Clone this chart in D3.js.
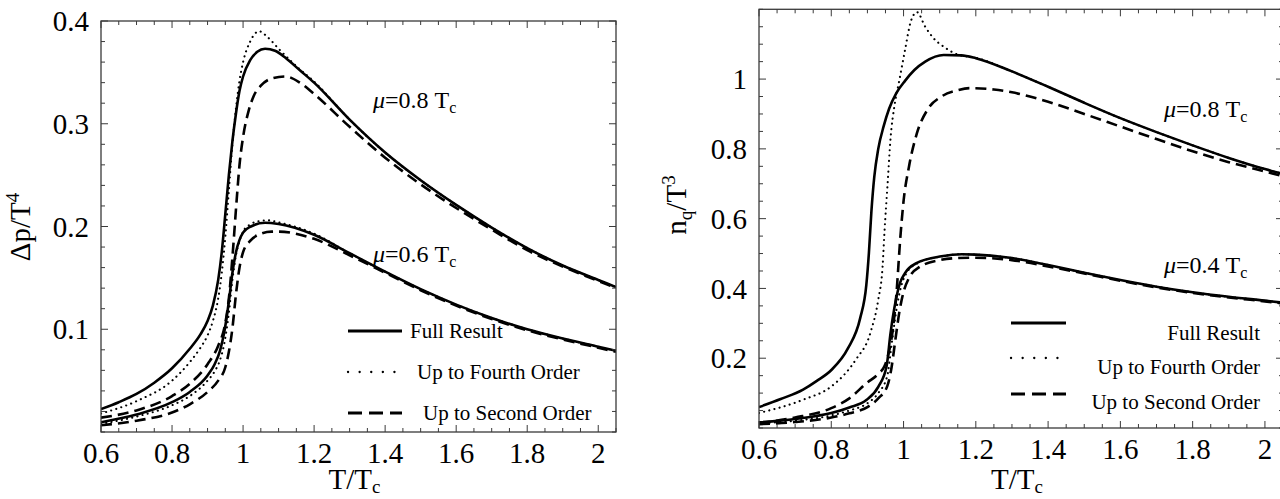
<!DOCTYPE html>
<html><head><meta charset="utf-8">
<script src="https://cdn.jsdelivr.net/npm/d3@7"></script>
<style>
html,body{margin:0;padding:0;background:#fff;}
svg{display:block;}
text{font-family:"Liberation Serif","Times New Roman",serif;}
</style></head>
<body>
<svg id="chart" width="1280" height="499"></svg>
<script>
// ---------------- DATA ----------------
const xTickValues = [0.6, 0.8, 1, 1.2, 1.4, 1.6, 1.8, 2];
const leftYTicks = [0.1, 0.2, 0.3, 0.4];
const rightYTicks = [0.2, 0.4, 0.6, 0.8, 1];
const legendLabels = ["Full Result", "Up to Fourth Order", "Up to Second Order"];

// Left panel: Δp/T^4
const pT08Full = [0.6,0.65,0.7,0.75,0.8,0.85,0.88,0.9,0.915,0.93,0.94,0.95,0.96,0.97,0.98,0.99,1.0,1.02,1.04,1.062,1.09,1.12,1.16,1.2,1.3,1.4,1.5,1.6,1.7,1.8,1.9,2.0,2.05];
const pV08Full = [0.0223,0.029,0.037,0.048,0.062,0.081,0.095,0.108,0.123,0.148,0.175,0.212,0.250,0.283,0.310,0.332,0.346,0.362,0.370,0.373,0.371,0.364,0.352,0.340,0.304,0.272,0.245,0.221,0.199,0.179,0.162,0.148,0.141];
const pT08Fourth = [0.6,0.7,0.8,0.85,0.88,0.9,0.915,0.93,0.94,0.95,0.96,0.97,0.98,0.99,1.0,1.02,1.045,1.07,1.1,1.15,1.2,1.3,1.4,1.5,1.6,1.7,1.8,1.9,2.0,2.05];
const pV08Fourth = [0.018,0.030,0.050,0.068,0.082,0.094,0.108,0.130,0.155,0.190,0.235,0.280,0.315,0.342,0.360,0.380,0.390,0.384,0.373,0.356,0.341,0.304,0.272,0.245,0.221,0.199,0.179,0.162,0.148,0.141];
const pT08Second = [0.6,0.7,0.8,0.85,0.9,0.93,0.95,0.96,0.97,0.982,0.99,1.0,1.016,1.03,1.05,1.08,1.12,1.16,1.2,1.3,1.4,1.5,1.6,1.7,1.8,1.9,2.0,2.05];
const pV08Second = [0.014,0.021,0.035,0.047,0.066,0.084,0.106,0.130,0.170,0.226,0.260,0.287,0.313,0.327,0.337,0.344,0.346,0.340,0.329,0.297,0.267,0.241,0.218,0.197,0.177,0.161,0.147,0.140];

const pT06Full = [0.6,0.7,0.8,0.85,0.9,0.92,0.935,0.947,0.96,0.97,0.98,0.99,1.0,1.022,1.062,1.1,1.2,1.3,1.4,1.5,1.6,1.7,1.8,1.9,2.0,2.05];
const pV06Full = [0.0095,0.017,0.029,0.039,0.055,0.066,0.079,0.097,0.127,0.155,0.175,0.187,0.194,0.200,0.2037,0.2025,0.192,0.174,0.156,0.139,0.124,0.111,0.100,0.091,0.083,0.079];
const pT06Fourth = [0.6,0.7,0.8,0.85,0.9,0.92,0.935,0.947,0.96,0.97,0.98,0.99,1.0,1.02,1.05,1.07,1.1,1.2,1.3,1.4,1.5,1.6,1.7,1.8,1.9,2.0,2.05];
const pV06Fourth = [0.008,0.015,0.026,0.035,0.050,0.059,0.070,0.086,0.116,0.148,0.172,0.186,0.195,0.202,0.2055,0.206,0.204,0.193,0.174,0.156,0.139,0.124,0.111,0.100,0.091,0.083,0.079];
const pT06Second = [0.6,0.7,0.8,0.85,0.9,0.93,0.95,0.96,0.97,0.98,0.99,1.0,1.02,1.05,1.08,1.1,1.2,1.3,1.4,1.5,1.6,1.7,1.8,1.9,2.0,2.05];
const pV06Second = [0.0065,0.011,0.019,0.027,0.039,0.050,0.063,0.078,0.101,0.134,0.160,0.175,0.186,0.193,0.195,0.195,0.188,0.172,0.155,0.138,0.123,0.110,0.099,0.090,0.082,0.078];

// Right panel: n_q/T^3
const nT08Full = [0.6,0.66,0.722,0.76,0.801,0.846,0.88,0.897,0.904,0.911,0.919,0.93,0.945,0.96,0.98,1.004,1.03,1.06,1.111,1.16,1.2,1.3,1.4,1.5,1.6,1.7,1.8,1.9,2.0,2.05];
const nV08Full = [0.060,0.083,0.110,0.135,0.167,0.228,0.315,0.410,0.500,0.620,0.720,0.800,0.865,0.915,0.960,0.995,1.026,1.050,1.069,1.068,1.060,1.022,0.978,0.932,0.888,0.848,0.810,0.774,0.742,0.728];
const nT08Fourth = [0.6,0.722,0.8,0.868,0.908,0.93,0.942,0.947,0.956,0.964,0.975,0.987,1.004,1.02,1.037,1.06,1.083,1.111,1.15,1.2,1.3,1.4,1.5,1.6,1.7,1.8,1.9,2.0,2.05];
const nV08Fourth = [0.043,0.081,0.119,0.196,0.272,0.368,0.463,0.558,0.702,0.830,0.925,0.990,1.083,1.165,1.192,1.150,1.117,1.093,1.070,1.061,1.022,0.978,0.932,0.888,0.848,0.810,0.774,0.742,0.728];
const nT08Second = [0.6,0.7,0.8,0.85,0.898,0.93,0.947,0.96,0.97,0.979,0.992,1.0,1.015,1.037,1.066,1.105,1.15,1.184,1.25,1.3,1.4,1.5,1.6,1.7,1.8,1.9,2.0,2.05];
const nV08Second = [0.014,0.030,0.057,0.085,0.129,0.155,0.177,0.220,0.280,0.368,0.558,0.650,0.749,0.845,0.912,0.950,0.968,0.974,0.970,0.962,0.935,0.900,0.864,0.828,0.793,0.762,0.735,0.722];

const nT04Full = [0.6,0.7,0.8,0.85,0.898,0.93,0.953,0.964,0.979,0.99,1.004,1.037,1.105,1.161,1.2,1.3,1.4,1.5,1.6,1.7,1.8,1.9,2.0,2.05];
const nV04Full = [0.016,0.026,0.043,0.059,0.081,0.118,0.177,0.272,0.368,0.415,0.444,0.473,0.492,0.498,0.497,0.487,0.467,0.445,0.424,0.405,0.389,0.376,0.365,0.359];
const nT04Fourth = [0.6,0.7,0.8,0.85,0.9,0.93,0.955,0.967,0.982,0.993,1.006,1.04,1.105,1.161,1.2,1.3,1.4,1.5,1.6,1.7,1.8,1.9,2.0,2.05];
const nV04Fourth = [0.013,0.021,0.036,0.050,0.071,0.100,0.150,0.240,0.350,0.405,0.440,0.473,0.492,0.498,0.497,0.487,0.467,0.445,0.424,0.405,0.389,0.376,0.365,0.359];
const nT04Second = [0.6,0.7,0.8,0.85,0.9,0.93,0.955,0.967,0.977,0.988,1.0,1.015,1.045,1.1,1.15,1.2,1.3,1.4,1.5,1.6,1.7,1.8,1.9,2.0,2.05];
const nV04Second = [0.011,0.017,0.030,0.042,0.060,0.085,0.120,0.175,0.250,0.330,0.390,0.430,0.462,0.481,0.487,0.488,0.481,0.463,0.443,0.422,0.403,0.387,0.374,0.363,0.357];

// ---------------- DRAW ----------------
const svg = d3.select("#chart");
const FONT = 29;
const styles = {
  full:   {width: 2.6, dash: null, cap: "butt"},
  fourth: {width: 2.1, dash: "0.1,5.2", cap: "round"},
  second: {width: 2.6, dash: "11,6", cap: "butt"}
};
const zip = (xs, ys) => xs.map((x, i) => [x, ys[i]]);

function panel(cfg) {
  const x = d3.scaleLinear().domain([0.6, 2.05]).range([cfg.left, cfg.right]);
  const y = d3.scaleLinear().domain([0, cfg.ymax]).range([cfg.bottom, cfg.top]);
  const g = svg.append("g");
  const clipId = "clip" + cfg.id;
  svg.append("clipPath").attr("id", clipId).append("rect")
    .attr("x", cfg.left).attr("y", cfg.top).attr("width", cfg.right - cfg.left).attr("height", cfg.bottom - cfg.top);

  const line = d3.line().x(d => x(d[0])).y(d => y(d[1])).curve(d3.curveMonotoneX);
  const cg = g.append("g").attr("clip-path", `url(#${clipId})`);
  cfg.series.forEach(s => {
    const st = styles[s.kind];
    cg.append("path").datum(zip(s.t, s.v)).attr("d", line)
      .attr("fill", "none").attr("stroke", "#000")
      .attr("stroke-width", st.width).attr("stroke-linecap", st.cap)
      .attr("stroke-linejoin", "round")
      .attr("stroke-dasharray", st.dash);
  });

  const frameColor = "#3a3a3a";
  g.append("rect").attr("x", cfg.left).attr("y", cfg.top)
    .attr("width", cfg.right - cfg.left).attr("height", cfg.bottom - cfg.top)
    .attr("fill", "none").attr("stroke", frameColor).attr("stroke-width", 1.3);

  const xMinor = d3.range(0.6, 2.05 + 1e-9, 0.05);
  const yMinor = d3.range(0, cfg.ymax + 1e-9, cfg.yMinorStep);
  const isMajorX = v => xTickValues.some(t => Math.abs(t - v) < 1e-6);
  const isMajorY = v => cfg.yTicks.some(t => Math.abs(t - v) < 1e-6);
  xMinor.forEach(v => {
    const L = isMajorX(v) ? 7 : 4;
    const px = x(v);
    g.append("line").attr("x1", px).attr("x2", px).attr("y1", cfg.bottom).attr("y2", cfg.bottom - L).attr("stroke", frameColor).attr("stroke-width", 1);
    g.append("line").attr("x1", px).attr("x2", px).attr("y1", cfg.top).attr("y2", cfg.top + L).attr("stroke", frameColor).attr("stroke-width", 1);
  });
  yMinor.forEach(v => {
    const L = isMajorY(v) ? 7 : 4;
    const py = y(v);
    g.append("line").attr("y1", py).attr("y2", py).attr("x1", cfg.left).attr("x2", cfg.left + L).attr("stroke", frameColor).attr("stroke-width", 1);
    g.append("line").attr("y1", py).attr("y2", py).attr("x1", cfg.right).attr("x2", cfg.right - L).attr("stroke", frameColor).attr("stroke-width", 1);
  });

  g.selectAll(".xl").data(xTickValues).enter().append("text")
    .attr("x", d => x(d)).attr("y", cfg.bottom + 31).attr("text-anchor", "middle")
    .attr("font-size", FONT).text(d => d3.format("")(d));
  g.selectAll(".yl").data(cfg.yTicks).enter().append("text")
    .attr("x", cfg.left - 12).attr("y", d => y(d)).attr("dy", "0.35em").attr("text-anchor", "end")
    .attr("font-size", FONT).text(d => d3.format("")(d));

  const xt = g.append("text").attr("x", (cfg.left + cfg.right) / 2 - 4).attr("y", 489)
    .attr("text-anchor", "middle").attr("font-size", FONT);
  xt.append("tspan").text("T/T");
  xt.append("tspan").attr("font-size", 19).attr("dy", 4).text("c");

  const yt = g.append("text").attr("transform", `translate(${cfg.ylabX},${cfg.ylabY}) rotate(-90)`)
    .attr("text-anchor", "middle").attr("font-size", FONT);
  cfg.ylabel(yt);

  cfg.mu.forEach(m => {
    const t = g.append("text").attr("x", m.x).attr("y", m.y).attr("font-size", 24);
    t.append("tspan").attr("font-style", "italic").text("μ");
    t.append("tspan").text("=" + m.val + " T");
    t.append("tspan").attr("font-size", 16).attr("dy", 5).text("c");
  });

  const kinds = ["full", "fourth", "second"];
  kinds.forEach((k, i) => {
    const st = styles[k];
    const L = cfg.legend;
    g.append("line").attr("x1", L.x1).attr("x2", L.x2).attr("y1", L.lineY[i]).attr("y2", L.lineY[i])
      .attr("stroke", "#000").attr("stroke-width", k === "fourth" ? 2.3 : 3)
      .attr("stroke-linecap", st.cap)
      .attr("stroke-dasharray", k === "fourth" ? "0.1,11.5" : (k === "second" ? "14,7" : null));
    g.append("text").attr("x", L.textX[i]).attr("y", L.textY[i]).attr("dy", "0.35em")
      .attr("text-anchor", L.anchor).attr("font-size", 21).text(legendLabels[i]);
  });
}

panel({
  id: "L", left: 101, right: 616, top: 21, bottom: 432, ymax: 0.4, yMinorStep: 0.02,
  yTicks: leftYTicks, ylabX: 30, ylabY: 227,
  ylabel: t => { t.append("tspan").text("Δp/T"); t.append("tspan").attr("font-size", 19).attr("dy", -11).text("4"); },
  mu: [{x: 373, y: 108, val: "0.8"}, {x: 373, y: 262, val: "0.6"}],
  legend: {x1: 348, x2: 402, lineY: [331, 372, 413], textX: [410, 417, 423], textY: [331, 372, 413], anchor: "start"},
  series: [
    {kind: "full", t: pT08Full, v: pV08Full},
    {kind: "fourth", t: pT08Fourth, v: pV08Fourth},
    {kind: "second", t: pT08Second, v: pV08Second},
    {kind: "full", t: pT06Full, v: pV06Full},
    {kind: "fourth", t: pT06Fourth, v: pV06Fourth},
    {kind: "second", t: pT06Second, v: pV06Second}
  ]
});

panel({
  id: "R", left: 759, right: 1283, top: 9.3, bottom: 428, ymax: 1.2, yMinorStep: 0.05,
  yTicks: rightYTicks, ylabX: 686, ylabY: 205,
  ylabel: t => { t.append("tspan").text("n"); t.append("tspan").attr("font-size", 19).attr("dy", 6).text("q");
                 t.append("tspan").attr("dy", -6).text("/T"); t.append("tspan").attr("font-size", 19).attr("dy", -11).text("3"); },
  mu: [{x: 1164, y: 117, val: "0.8"}, {x: 1164, y: 273, val: "0.4"}],
  legend: {x1: 1011, x2: 1066, lineY: [323, 358, 394], textX: [1260, 1260, 1260], textY: [333, 367, 402], anchor: "end"},
  series: [
    {kind: "full", t: nT08Full, v: nV08Full},
    {kind: "fourth", t: nT08Fourth, v: nV08Fourth},
    {kind: "second", t: nT08Second, v: nV08Second},
    {kind: "full", t: nT04Full, v: nV04Full},
    {kind: "fourth", t: nT04Fourth, v: nV04Fourth},
    {kind: "second", t: nT04Second, v: nV04Second}
  ]
});
</script>
</body></html>
